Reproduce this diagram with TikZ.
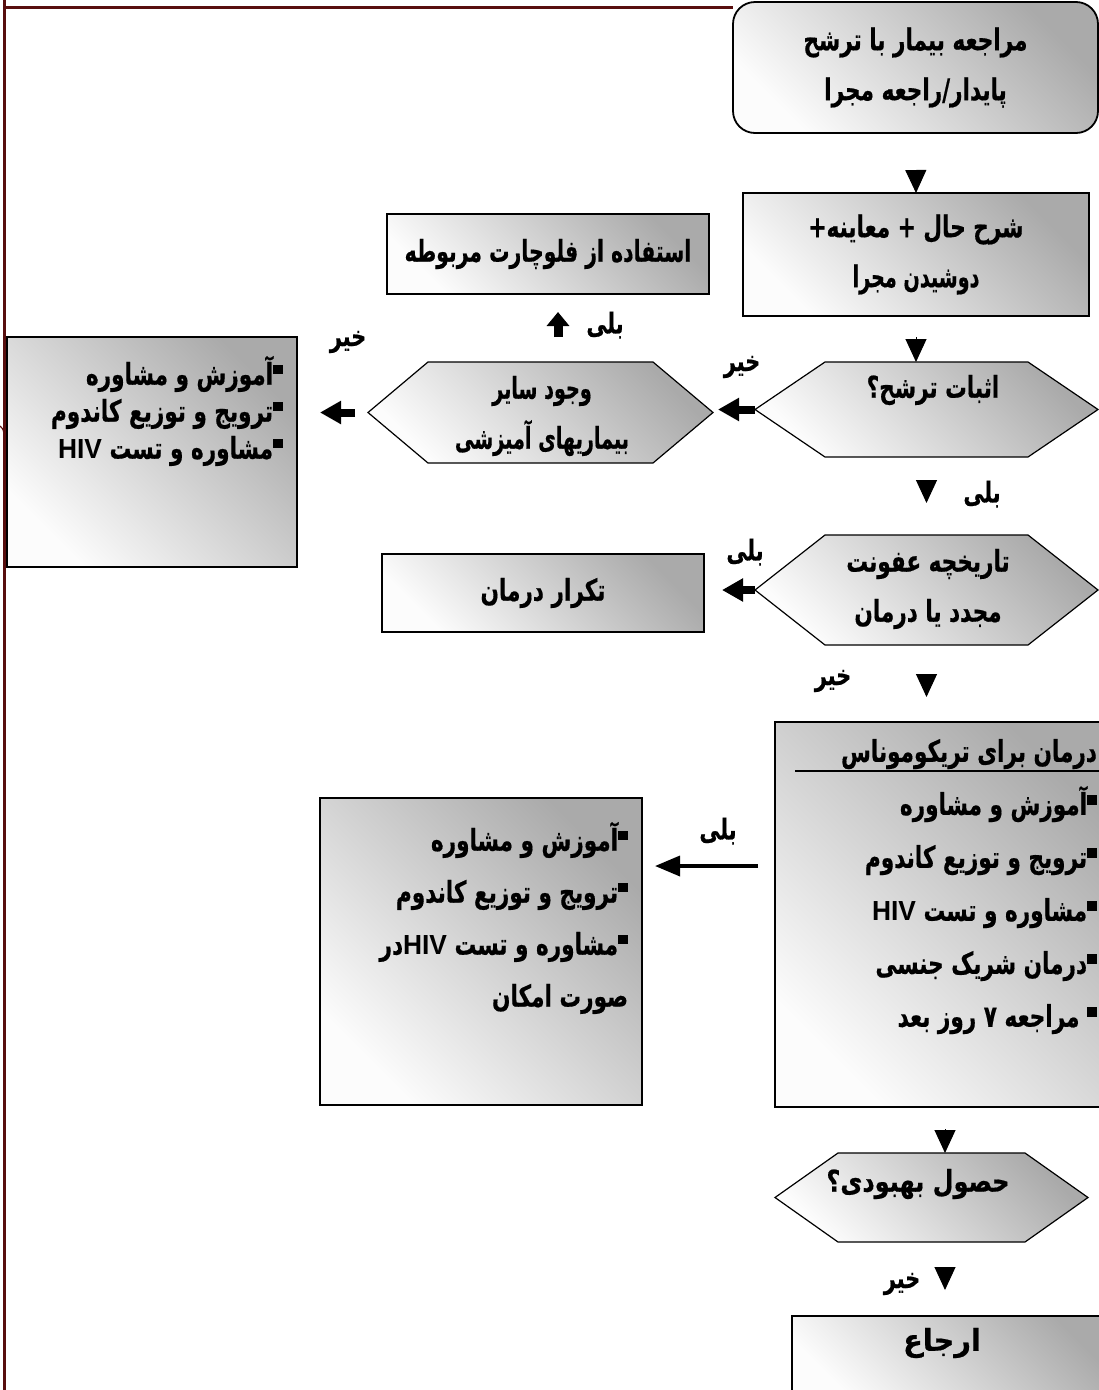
\documentclass[tikz,border=0pt]{standalone}
\usepackage{graphicx}
\usepackage{fontspec}
\usetikzlibrary{arrows.meta}
\TeXXeTstate=1
\newfontfamily\fafont[Script=Arabic, BoldFeatures={FakeBold=0.6}]{DejaVu Sans}
\newfontfamily\latfont{Liberation Sans}
% one right-to-left line, set a little narrower and taller
\newcommand\rtline[2][0.9]{\scalebox{#1}[1.25]{\beginR #2\endR}}
\newcommand\hiv{\beginL{\latfont\bfseries\scalebox{1.22}[0.92]{HIV}}\endL}
\newcommand\sq{\raisebox{0.34em}{\rule{0.46em}{0.33em}}}
\definecolor{framered}{RGB}{88,14,14}
\definecolor{shadedark}{RGB}{170,170,170}
\definecolor{shadelight}{RGB}{252,252,252}
% hexagonal decision shape: name, x, y, width, height, slant
\newcommand\hexnode[6]{%
  \node[minimum width=#4pt, minimum height=#5pt] (#1) at (#2,#3) {};
  \path[hexfill] (#1.west) -- ([xshift=#6pt]#1.north west) -- ([xshift=-#6pt]#1.north east)
    -- (#1.east) -- ([xshift=-#6pt]#1.south east) -- ([xshift=#6pt]#1.south west) -- cycle;}
\begin{document}
\begin{tikzpicture}[x=1pt,y=-1pt,
  every node/.style={inner sep=0pt, outer sep=0pt},
  txt/.style={font={\fafont\bfseries\fontsize{24}{50}\selectfont\lineskiplimit=-50pt}, align=center},
  lst/.style={font={\fafont\bfseries\fontsize{24}{#1}\selectfont\lineskiplimit=-50pt}, align=right},
  lbl/.style={font={\fafont\bfseries\fontsize{23}{26}\selectfont}},
  grad/.style={top color=shadedark, bottom color=shadelight, shading angle=-45},
  box/.style={grad, draw=black, line width=1.8pt},
  hexfill/.style={grad, draw=black, line width=1.2pt, line join=miter},
  frame/.style={draw=framered, line width=3pt},
  dn/.style={-{Triangle[length=23pt,width=21pt]}, line width=1pt},
  lt/.style={-{Triangle[length=21pt,width=22pt]}, line width=8pt},
  upa/.style={-{Triangle[length=14pt,width=22pt]}, line width=9pt},
  longlt/.style={-{Triangle[length=25pt,width=20pt]}, line width=3.5pt},
]
\useasboundingbox (0,0) rectangle (1099,1390);
\fill[white] (0,0) rectangle (1099,1390);

% page frame
\draw[frame] (4,0) -- (4,1390);
\draw[frame] (4,7) -- (733,7);
\draw[framered, line width=1.2pt] (0,426) .. controls (4,430) .. (4,441);

% boxes
\node[box, rounded corners=22pt, minimum width=365pt, minimum height=131pt, txt] (start) at (915.5,67.5)
  {\rtline{مراجعه بیمار با ترشح}\\\rtline{پایدار\kern0pt/\kern0pt راجعه مجرا}};
\node[box, minimum width=346pt, minimum height=123pt, txt] (hist) at (916,254.5)
  {\rtline{شرح حال + معاینه\kern0pt+}\\\rtline[0.8]{دوشیدن مجرا}};
\node[box, minimum width=322pt, minimum height=80pt, txt] (other) at (548,254)
  {\rtline[0.85]{استفاده از فلوچارت مربوطه}};
\node[box, minimum width=290pt, minimum height=230pt] (edu1) at (152,452) {};
\node[box, minimum width=322pt, minimum height=78pt, txt] (repeat) at (543,593)
  {\rtline{تکرار درمان}};
\node[box, minimum width=340pt, minimum height=385pt] (treat) at (945,914.5) {};
\node[box, minimum width=322pt, minimum height=307pt] (edu2) at (481,951.5) {};
\node[box, minimum width=323pt, minimum height=84pt] (refer) at (953.5,1358) {};

% decision shapes
\hexnode{q1}{926.5}{409.5}{343}{95}{70}
\hexnode{q2}{540.5}{412.5}{345}{101}{60}
\hexnode{q3}{926.5}{590}{343}{110}{70}
\hexnode{q4}{931.5}{1197.5}{313}{89}{63}

% texts
\node[txt] (q1t) at (933,390) {\rtline{اثبات ترشح؟}};
\node[txt] (q2t) at (542,416) {\rtline[0.8]{وجود سایر}\\\rtline[0.8]{بیماریهای آمیزشی}};
\node[txt] (q3t) at (928,589) {\rtline{تاریخچه عفونت}\\\rtline{مجدد یا درمان}};
\node[txt] (q4t) at (918,1184) {\rtline[1]{حصول بهبودی؟}};
\node[txt] (refert) at (942,1343) {\rtline[1.2]{ارجاع}};

\node[lst=37pt, anchor=north east] (edu1t) at (283,356)
  {\rtline{\sq آموزش و مشاوره}\\\rtline{\sq ترویج و توزیع کاندوم}\\\rtline{\sq مشاوره و تست \hiv}};
\node[lst=53pt, anchor=north east] (treatt) at (1097,739)
  {\rtline{درمان برای تریکوموناس}\\\rtline{\sq آموزش و مشاوره}\\\rtline{\sq ترویج و توزیع کاندوم}\\
   \rtline{\sq مشاوره و تست \hiv}\\\rtline{\sq درمان شریک جنسی}\\\rtline{\sq\ مراجعه ۷ روز بعد}};
\draw[line width=1.4pt] (795,771) -- (1105,771);
\node[lst=52pt, anchor=north east] (edu2t) at (628,822)
  {\rtline{\sq آموزش و مشاوره}\\\rtline{\sq ترویج و توزیع کاندوم}\\\rtline{\sq مشاوره و تست \hiv در}\\\rtline{صورت امکان}};

% connectors
\draw[dn, shorten <=37pt] (start.south) -- (hist.north);
\draw[dn, shorten <=21pt] (hist.south) -- (hist.south |- q1.north);
\draw[dn, shorten <=23pt, shorten >=32pt] (q1.south) -- (q3.north);
\draw[dn, shorten <=30pt, shorten >=25pt] (q3.south) -- (q3.south |- treat.north);
\draw[dn, shorten <=22pt] (treat.south) -- (treat.south |- q4.north);
\draw[dn, shorten <=25pt, shorten >=26pt] (q4.south -| treat.south) -- (treat.south |- refer.north);

\draw[lt, shorten >=5pt] (q1.west) -- (q1.west -| q2.east);
\draw[lt, shorten <=13pt, shorten >=23pt] (q2.west) -- (q2.west -| edu1.east);
\draw[lt, shorten >=18pt] (q3.west) -- (q3.west -| repeat.east);
\coordinate (upx) at (558,0);
\draw[upa, shorten <=25pt, shorten >=18pt] (q2.north -| upx) -- (other.south -| upx);
\coordinate (ay) at (0,866);
\draw[longlt, shorten <=17pt, shorten >=13pt] (treat.west |- ay) -- (edu2.east |- ay);

% branch labels
\node[lbl] (l1) at (605,325) {\rtline{بلی}};
\node[lbl] (l2) at (348,342) {\rtline{خیر}};
\node[lbl] (l3) at (742,367) {\rtline{خیر}};
\node[lbl] (l4) at (982,494) {\rtline{بلی}};
\node[lbl] (l5) at (745,552) {\rtline{بلی}};
\node[lbl] (l6) at (833,681) {\rtline{خیر}};
\node[lbl] (l7) at (718,831) {\rtline{بلی}};
\node[lbl] (l8) at (902,1284) {\rtline{خیر}};
\end{tikzpicture}
\end{document}
